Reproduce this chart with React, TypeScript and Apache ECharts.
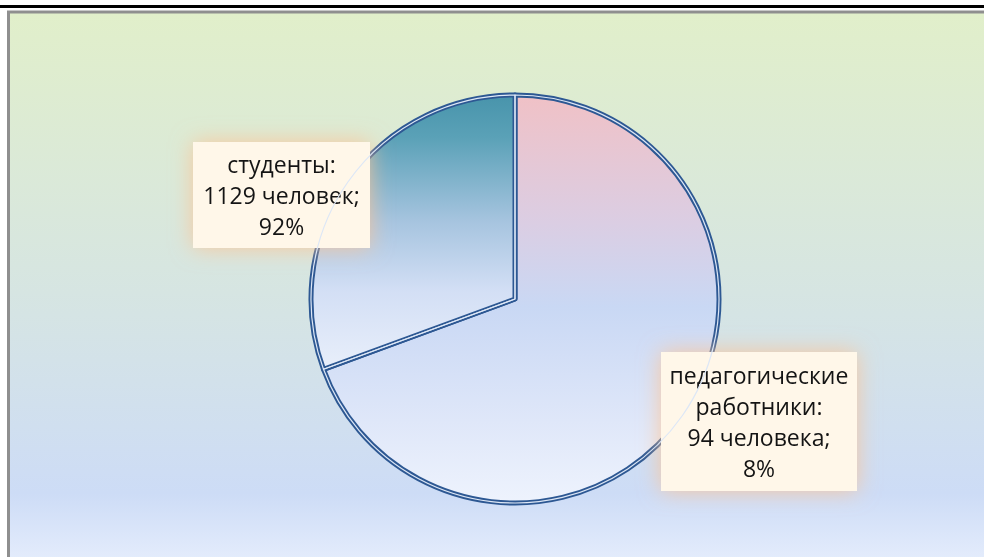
import React, { useEffect, useRef } from "react";
import * as echarts from "echarts";

// Data
const categories = ["педагогические работники", "студенты"];
const peopleCounts = [94, 1129];
const peopleUnits = ["человека", "человек"];
const percentLabels = [8, 92];
// slice shares as drawn in the reference (angle)
const sliceShares = [69.4, 30.6];

// Layout (positions/sizes of the label boxes)
const labelBoxes = [
  { cx: 759, cy: 421.5, w: 196, h: 139 },
  { cx: 281.5, cy: 195, w: 177, h: 106 },
];

const FONT = "'Open Sans', 'Noto Sans', sans-serif";

export default function App() {
  const ref = useRef<HTMLDivElement>(null);

  useEffect(() => {
    if (!ref.current) return;
    const chart = echarts.init(ref.current, undefined, { renderer: "svg" });

    const fills = [
      new echarts.graphic.LinearGradient(
        0, 95, 0, 503,
        [
          { offset: 0, color: "#f0c1c6" },
          { offset: 0.3, color: "#dccde2" },
          { offset: 0.52, color: "#c9d8f4" },
          { offset: 0.8, color: "#dfe7f9" },
          { offset: 1, color: "#eef3fd" },
        ],
        true
      ),
      new echarts.graphic.LinearGradient(
        0, 95, 0, 375,
        [
          { offset: 0, color: "#4894ab" },
          { offset: 0.15, color: "#5aa1b7" },
          { offset: 0.45, color: "#a6c4df" },
          { offset: 0.7, color: "#d3dff5" },
          { offset: 1, color: "#eaf0fb" },
        ],
        true
      ),
    ];

    const data = categories.map((name, i) => ({
      name,
      value: sliceShares[i],
      itemStyle: { color: fills[i] },
      label: {
        width: labelBoxes[i].w - 8,
        height: labelBoxes[i].h - 8,
      },
    }));

    const outline = categories.map((name, i) => ({
      name,
      value: sliceShares[i],
    }));

    const option: any = {
      animation: false,
      graphic: {
        elements: [
          {
            type: "rect",
            silent: true,
            z: -10,
            shape: { x: 0, y: 5, width: 984, height: 3 },
            style: { fill: "#000000" },
          },
          {
            type: "rect",
            silent: true,
            z: -10,
            shape: { x: 8.5, y: 12, width: 990, height: 560 },
            style: {
              fill: new echarts.graphic.LinearGradient(
                0, 0, 0, 1,
                [
                  { offset: 0, color: "#e1efca" },
                  { offset: 0.5, color: "#d6e5e2" },
                  { offset: 0.86, color: "#cddcf6" },
                  { offset: 1, color: "#e8effd" },
                ]
              ),
              stroke: "#8f8f8f",
              lineWidth: 3,
            },
          },
        ],
      },
      series: [
        {
          type: "pie",
          center: [515, 299],
          radius: 204,
          startAngle: 90,
          clockwise: true,
          silent: true,
          z: 2,
          itemStyle: {
            borderColor: "#2d5893",
            borderWidth: 5,
          },
          label: {
            show: true,
            position: "outside",
            formatter: (p: any) => {
              const i = p.dataIndex;
              return (
                categories[i].replace(" ", "\n") +
                ":\n" +
                peopleCounts[i] +
                " " +
                peopleUnits[i] +
                ";\n" +
                percentLabels[i] +
                "%"
              );
            },
            fontFamily: FONT,
            fontSize: 23,
            lineHeight: 31,
            color: "#141414",
            align: "center",
            verticalAlign: "middle",
            backgroundColor: "#fff7e9",
            padding: 4,
            shadowBlur: 22,
            shadowColor: "rgba(252, 196, 150, 0.9)",
          },
          labelLine: { show: false },
          labelLayout: (params: any) => {
            const b = labelBoxes[params.dataIndex];
            return {
              x: b.cx,
              y: b.cy,
              align: "center",
              verticalAlign: "middle",
              hideOverlap: false,
            };
          },
          data,
        },
        {
          type: "pie",
          center: [515, 299],
          radius: 204,
          startAngle: 90,
          clockwise: true,
          silent: true,
          z: 3,
          itemStyle: {
            color: "rgba(0,0,0,0)",
            borderColor: "#dde7f6",
            borderWidth: 1.2,
          },
          label: { show: false },
          labelLine: { show: false },
          data: outline,
        },
      ],
    };

    chart.setOption(option);
    return () => chart.dispose();
  }, []);

  return (
    <div
      ref={ref}
      style={{ position: "fixed", left: 0, top: 0, width: 984, height: 557 }}
    />
  );
}
